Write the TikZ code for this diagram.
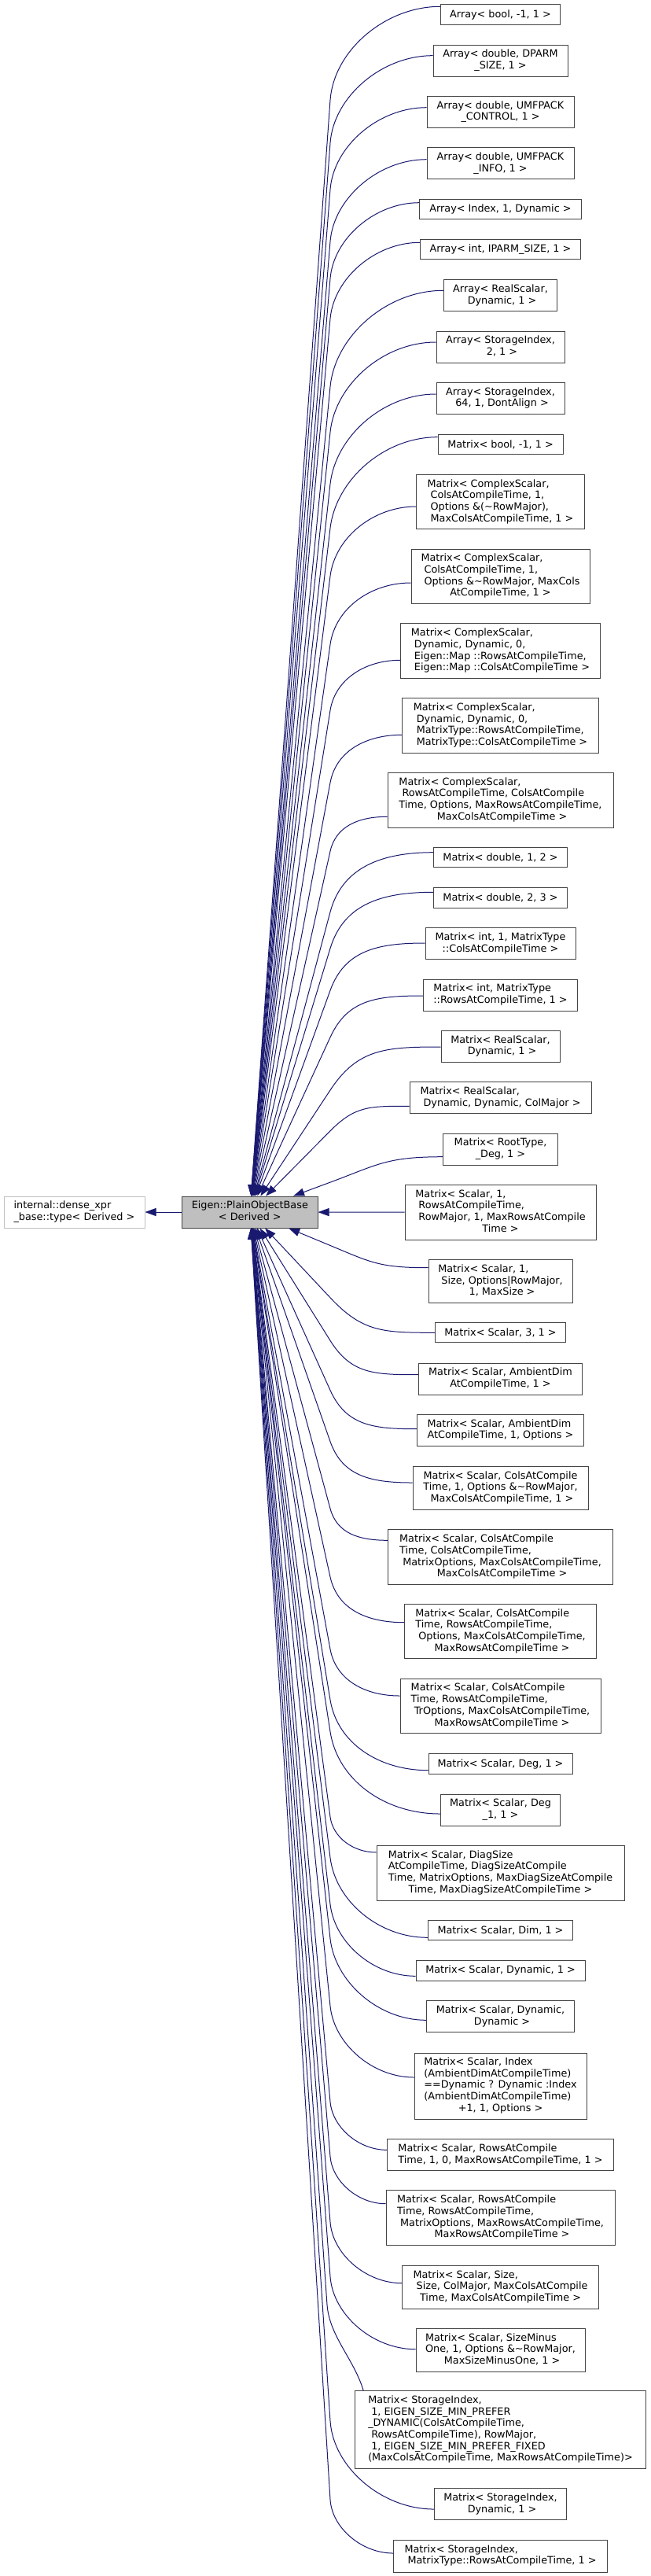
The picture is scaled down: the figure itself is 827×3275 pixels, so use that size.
\documentclass[tikz,border=0pt]{standalone}
\usepackage{fontspec}
\setmainfont{DejaVu Sans}
\usetikzlibrary{calc,arrows.meta}
\definecolor{edgeblue}{HTML}{191970}
\definecolor{boxline}{HTML}{444444}
\definecolor{rootfill}{HTML}{BFBFBF}
\newcommand{\dxt}[1]{\begin{tabular}{@{}l@{}}#1\end{tabular}}
\newcommand{\dxm}[1]{\begin{tabular}{@{}c@{}}#1\end{tabular}}
\newcommand{\dxc}[1]{\multicolumn{1}{@{}c@{}}{#1}}
\newcommand{\dxnode}[5]{\node[dxbox, minimum width=#3pt, minimum height=#4pt] (#1) at (636.5pt,-#2pt) {#5};}
\newcommand{\dxlink}[2]{%
\draw[dxedge] let \p1=([yshift=#2pt]#1.west), \p2=(plain.center),
 \n1={\x1-420pt}, \n2={abs(\y1-\y2)}, \n3={\n1*min(0.85,0.027*sqrt(\n2))},
 \n4={ifthenelse(\y1>\y2,-1,1)}, \p3=(420pt,\y1+\n4*\n3),
 \n5={veclen(\x3-\x2,\y3-\y2)}, \n6={(\x3-\x2)/\n5}, \n7={(\y3-\y2)/\n5},
 \p4=(\x3+0.45*\n1*\n6,\y3+0.45*\n1*\n7)
 in (plain) -- (\p3) .. controls (\p4) and (\x1-0.5*\n1,\y1) .. (\p1);}
\begin{document}
\begin{tikzpicture}[x=1pt,y=1pt,
  dxbox/.style={draw=boxline, line width=1pt, fill=white, inner sep=0pt, font=\fontsize{12.8}{14.7}\selectfont},
  dxedge/.style={draw=edgeblue, line width=1pt, {Triangle[length=14pt,width=10pt]}-}]
\useasboundingbox (0,0) rectangle (827,-3275);
\node[dxbox, draw=rootfill, minimum width=179pt, minimum height=40pt] (internal) at (94.5,-1541) {\dxt{internal::dense\_xpr\\\_base::type< Derived >}};
\node[dxbox, fill=rootfill, minimum width=172.3pt, minimum height=40pt] (plain) at (317.85,-1541) {\dxm{Eigen::PlainObjectBase\\< Derived >}};
\dxnode{n1}{18.5}{152.4}{25.6}{Array< bool, -1, 1 >}
\dxnode{n2}{77.2}{171}{40.3}{\dxm{Array< double, DPARM\\\_SIZE, 1 >}}
\dxnode{n3}{142.5}{187}{40.4}{\dxm{Array< double, UMFPACK\\\_CONTROL, 1 >}}
\dxnode{n4}{207.8}{187}{40.3}{\dxm{Array< double, UMFPACK\\\_INFO, 1 >}}
\dxnode{n5}{266.3}{205.6}{25.3}{Array< Index, 1, Dynamic >}
\dxnode{n6}{317.3}{204.4}{25.3}{Array< int, IPARM\_SIZE, 1 >}
\dxnode{n7}{375.8}{144.4}{40.3}{\dxm{Array< RealScalar,\\\ Dynamic, 1 >}}
\dxnode{n8}{441.2}{163}{40.3}{\dxm{Array< StorageIndex,\\\ 2, 1 >}}
\dxnode{n9}{506.5}{163}{40.3}{\dxm{Array< StorageIndex,\\\ 64, 1, DontAlign >}}
\dxnode{n10}{565}{159}{25.4}{Matrix< bool, -1, 1 >}
\dxnode{n11}{638.3}{213.6}{69.3}{\dxt{Matrix< ComplexScalar,\\\ ColsAtCompileTime, 1,\\\ Options \&(\textasciitilde RowMajor),\\\ MaxColsAtCompileTime, 1 >}}
\dxnode{n12}{733}{227}{69.4}{\dxt{Matrix< ComplexScalar,\\\ ColsAtCompileTime, 1,\\\ Options \&\textasciitilde RowMajor, MaxCols\\\dxc{AtCompileTime, 1 >}}}
\dxnode{n13}{827.8}{253.6}{69.7}{\dxt{Matrix< ComplexScalar,\\\ Dynamic, Dynamic, 0,\\\ Eigen::Map ::RowsAtCompileTime,\\\ Eigen::Map ::ColsAtCompileTime >}}
\dxnode{n14}{922.5}{249.6}{69.6}{\dxt{Matrix< ComplexScalar,\\\ Dynamic, Dynamic, 0,\\\ MatrixType::RowsAtCompileTime,\\\ MatrixType::ColsAtCompileTime >}}
\dxnode{n15}{1017.2}{287}{69.7}{\dxt{Matrix< ComplexScalar,\\\ RowsAtCompileTime, ColsAtCompile\\Time, Options, MaxRowsAtCompileTime,\\\dxc{\ MaxColsAtCompileTime >}}}
\dxnode{n16}{1090.3}{169.6}{25.3}{Matrix< double, 1, 2 >}
\dxnode{n17}{1141.2}{169.6}{25.7}{Matrix< double, 2, 3 >}
\dxnode{n18}{1199.8}{191}{40.3}{\dxm{Matrix< int, 1, MatrixType\\::ColsAtCompileTime >}}
\dxnode{n19}{1265.2}{196.4}{40.3}{\dxt{Matrix< int, MatrixType\\::RowsAtCompileTime, 1 >}}
\dxnode{n20}{1330.5}{151}{40.4}{\dxm{Matrix< RealScalar,\\\ Dynamic, 1 >}}
\dxnode{n21}{1395.8}{231}{40.3}{\dxt{Matrix< RealScalar,\\\ Dynamic, Dynamic, ColMajor >}}
\dxnode{n22}{1461.2}{145.6}{40.3}{\dxm{Matrix< RootType,\\\_Deg, 1 >}}
\dxnode{n23}{1541.2}{243}{69.7}{\dxt{Matrix< Scalar, 1,\\\ RowsAtCompileTime,\\\ RowMajor, 1, MaxRowsAtCompile\\\dxc{Time >}}}
\dxnode{n24}{1629.2}{183}{55}{\dxt{Matrix< Scalar, 1,\\\ Size, Options|RowMajor,\\\dxc{\ 1, MaxSize >}}}
\dxnode{n25}{1694.3}{165.6}{25.3}{Matrix< Scalar, 3, 1 >}
\dxnode{n26}{1753}{208.4}{40}{\dxm{Matrix< Scalar, AmbientDim\\AtCompileTime, 1 >}}
\dxnode{n27}{1818.5}{212.4}{40.4}{\dxt{Matrix< Scalar, AmbientDim\\AtCompileTime, 1, Options >}}
\dxnode{n28}{1891.8}{223}{55}{\dxm{Matrix< Scalar, ColsAtCompile\\Time, 1, Options \&\textasciitilde RowMajor,\\\ MaxColsAtCompileTime, 1 >}}
\dxnode{n29}{1979.8}{285.6}{69.7}{\dxt{Matrix< Scalar, ColsAtCompile\\Time, ColsAtCompileTime,\\\ MatrixOptions, MaxColsAtCompileTime,\\\dxc{\ MaxColsAtCompileTime >}}}
\dxnode{n30}{2074.3}{244.4}{69.3}{\dxt{Matrix< Scalar, ColsAtCompile\\Time, RowsAtCompileTime,\\\ Options, MaxColsAtCompileTime,\\\dxc{\ MaxRowsAtCompileTime >}}}
\dxnode{n31}{2169}{255}{69.4}{\dxt{Matrix< Scalar, ColsAtCompile\\Time, RowsAtCompileTime,\\\ TrOptions, MaxColsAtCompileTime,\\\dxc{\ MaxRowsAtCompileTime >}}}
\dxnode{n32}{2242.5}{183}{25.6}{Matrix< Scalar, Deg, 1 >}
\dxnode{n33}{2301.2}{152.4}{40.3}{\dxm{Matrix< Scalar, Deg\\\_1, 1 >}}
\dxnode{n34}{2381.2}{315}{69.7}{\dxt{Matrix< Scalar, DiagSize\\AtCompileTime, DiagSizeAtCompile\\Time, MatrixOptions, MaxDiagSizeAtCompile\\\dxc{Time, MaxDiagSizeAtCompileTime >}}}
\dxnode{n35}{2454.3}{184.4}{25.3}{Matrix< Scalar, Dim, 1 >}
\dxnode{n36}{2505.2}{215}{25.7}{Matrix< Scalar, Dynamic, 1 >}
\dxnode{n37}{2563.8}{188.4}{40.3}{\dxm{Matrix< Scalar, Dynamic,\\\ Dynamic >}}
\dxnode{n38}{2652}{219}{84}{\dxt{Matrix< Scalar, Index\\(AmbientDimAtCompileTime)\\==Dynamic ? Dynamic :Index\\(AmbientDimAtCompileTime)\\\dxc{+1, 1, Options >}}}
\dxnode{n39}{2739.8}{288.4}{40.3}{\dxt{Matrix< Scalar, RowsAtCompile\\Time, 1, 0, MaxRowsAtCompileTime, 1 >}}
\dxnode{n40}{2819.8}{291}{69.7}{\dxt{Matrix< Scalar, RowsAtCompile\\Time, RowsAtCompileTime,\\\ MatrixOptions, MaxRowsAtCompileTime,\\\dxc{\ MaxRowsAtCompileTime >}}}
\dxnode{n41}{2907.8}{249.6}{55}{\dxt{Matrix< Scalar, Size,\\\ Size, ColMajor, MaxColsAtCompile\\\dxc{Time, MaxColsAtCompileTime >}}}
\dxnode{n42}{2987.8}{215}{55}{\dxt{Matrix< Scalar, SizeMinus\\One, 1, Options \&\textasciitilde RowMajor,\\\dxc{\ MaxSizeMinusOne, 1 >}}}
\dxnode{n43}{3089.2}{369.6}{99}{\dxt{Matrix< StorageIndex,\\\ 1, EIGEN\_SIZE\_MIN\_PREFER\\\_DYNAMIC(ColsAtCompileTime,\\\ RowsAtCompileTime), RowMajor,\\\ 1, EIGEN\_SIZE\_MIN\_PREFER\_FIXED\\(MaxColsAtCompileTime, MaxRowsAtCompileTime)>}}
\dxnode{n44}{3183.8}{168.4}{40.3}{\dxm{Matrix< StorageIndex,\\\ Dynamic, 1 >}}
\dxnode{n45}{3249.5}{271.7}{41}{\dxt{Matrix< StorageIndex,\\\ MatrixType::RowsAtCompileTime, 1 >}}
% connectors
\draw[dxedge] (internal) -- (plain);
\dxlink{n1}{10.2}
\dxlink{n2}{6.5}
\dxlink{n3}{5.8}
\dxlink{n4}{5.1}
\dxlink{n5}{8.6}
\dxlink{n6}{9}
\dxlink{n7}{6.5}
\dxlink{n8}{6.2}
\dxlink{n9}{5.5}
\dxlink{n10}{9.3}
\dxlink{n11}{-5.7}
\dxlink{n12}{-8}
\dxlink{n13}{-11.5}
\dxlink{n14}{-11.8}
\dxlink{n15}{-21.1}
\dxlink{n16}{6.6}
\dxlink{n17}{6.9}
\dxlink{n18}{0.8}
\dxlink{n19}{-0.8}
\dxlink{n20}{-0.5}
\dxlink{n21}{-10.5}
\dxlink{n22}{-9.5}
\draw[dxedge] (plain) -- (n23);
\dxlink{n24}{17.5}
\dxlink{n25}{0}
\dxlink{n26}{5.3}
\dxlink{n27}{1.8}
\dxlink{n28}{6.8}
\dxlink{n29}{21.5}
\dxlink{n30}{11.6}
\dxlink{n31}{13}
\dxlink{n32}{-8.2}
\dxlink{n33}{-4.8}
\dxlink{n34}{26.2}
\dxlink{n35}{-9}
\dxlink{n36}{-7.1}
\dxlink{n37}{-4.5}
\dxlink{n38}{11}
\dxlink{n39}{6.5}
\dxlink{n40}{18.1}
\dxlink{n41}{5.1}
\dxlink{n42}{1.1}
\coordinate (b43) at (416,-2930);
\draw[dxedge] (plain) -- (b43) .. controls ($(b43)!-40pt!(plain.center)$) and ([xshift=-1pt,yshift=40pt]n43.north west) .. ([xshift=11pt]n43.north west);
\dxlink{n44}{-6.2}
\dxlink{n45}{3.5}
\end{tikzpicture}
\end{document}
